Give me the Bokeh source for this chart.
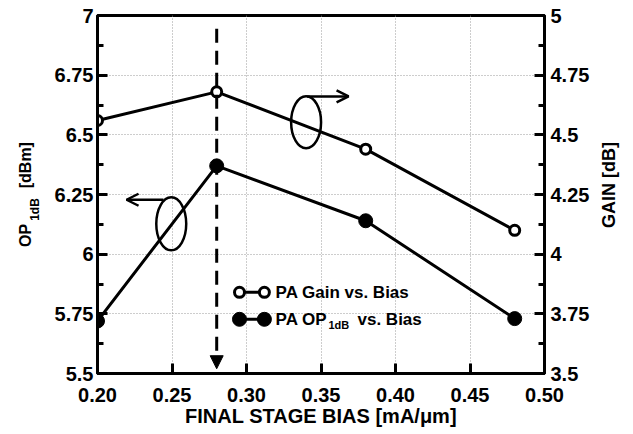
import math
from bokeh.plotting import figure
from bokeh.models import (Range1d, LinearAxis, FixedTicker, Label, Arrow,
                          OpenHead, NormalHead, PrintfTickFormatter)
from bokeh.embed import file_html
from bokeh.resources import INLINE

# ---------------- data ----------------
bias = [0.20, 0.28, 0.38, 0.48]            # mA/um
gain_db = [4.56, 4.68, 4.44, 4.10]         # right axis
op1db_dbm = [5.72, 6.37, 6.14, 5.73]       # left axis

x_ticks = [0.20, 0.25, 0.30, 0.35, 0.40, 0.45, 0.50]
left_ticks = [5.5, 5.75, 6.0, 6.25, 6.5, 6.75, 7.0]
left_labels = ["5.5", "5.75", "6", "6.25", "6.5", "6.75", "7"]
left_minor = [5.625, 5.875, 6.125, 6.375, 6.625, 6.875]
right_ticks = [3.5, 3.75, 4.0, 4.25, 4.5, 4.75, 5.0]
right_labels = ["3.5", "3.75", "4", "4.25", "4.5", "4.75", "5"]
right_minor = [3.625, 3.875, 4.125, 4.375, 4.625, 4.875]
optimum_bias = 0.28

FONT = "Liberation Sans"
NB = "\u00a0"

p = figure(frame_width=447, frame_height=358,
           min_border_left=97, min_border_right=89,
           min_border_top=15, min_border_bottom=61,
           x_range=Range1d(0.20, 0.50), y_range=Range1d(5.5, 7.0),
           output_backend="svg", toolbar_location=None)
p.extra_y_ranges = {"gain": Range1d(3.5, 5.0)}
p.background_fill_color = "white"
p.border_fill_color = "white"
p.outline_line_color = "black"
p.outline_line_width = 3

def style_axis(ax):
    ax.axis_line_width = 3
    ax.axis_line_color = "black"
    ax.major_tick_in = 10
    ax.major_tick_out = 0
    ax.minor_tick_in = 6
    ax.minor_tick_out = 0
    ax.major_tick_line_width = 3
    ax.minor_tick_line_width = 3
    ax.major_label_text_font = FONT
    ax.major_label_text_font_style = "bold"
    ax.major_label_text_font_size = "20px"
    ax.major_label_text_color = "black"

def bare_axis(ax):
    ax.axis_line_color = None
    ax.major_tick_out = 0
    ax.major_tick_in = 0
    ax.minor_tick_out = 0
    ax.minor_tick_in = 0

def title_axis(ax, text, size, standoff):
    # an axis that only carries a (bold) title text
    ax.ticker = FixedTicker(ticks=[])
    bare_axis(ax)
    ax.major_label_standoff = 0
    ax.axis_label = text
    ax.axis_label_text_font = FONT
    ax.axis_label_text_font_style = "bold"
    ax.axis_label_text_font_size = size
    ax.axis_label_text_color = "black"
    ax.axis_label_standoff = standoff

# bottom axis
xa = p.xaxis[0]
xa.ticker = FixedTicker(ticks=x_ticks)
xa.formatter = PrintfTickFormatter(format="%.2f")
style_axis(xa)
xa.major_label_standoff = 14
xa.axis_label = "FINAL STAGE BIAS [mA/\u03bcm]"
xa.axis_label_text_font = FONT
xa.axis_label_text_font_style = "bold"
xa.axis_label_text_font_size = "20px"
xa.axis_label_text_color = "black"
xa.axis_label_standoff = 0

# left axis
ya = p.yaxis[0]
ya.ticker = FixedTicker(ticks=left_ticks, minor_ticks=left_minor)
ya.major_label_overrides = {t: l for t, l in zip(left_ticks, left_labels)}
style_axis(ya)
ya.major_label_standoff = 4

# left title: OP_1dB [dBm]  (subscript carried by its own title-only axis)
sub_ax = LinearAxis()
title_axis(sub_ax, "1dB" + NB * 9, "12px", 10)
p.add_layout(sub_ax, "left")
op_ax = LinearAxis()
title_axis(op_ax, "OP" + NB * 8 + "[dBm]", "16px", -9)
p.add_layout(op_ax, "left")

# right axis
ra = LinearAxis(y_range_name="gain")
ra.ticker = FixedTicker(ticks=right_ticks, minor_ticks=right_minor)
ra.major_label_overrides = {t: l for t, l in zip(right_ticks, right_labels)}
style_axis(ra)
ra.major_label_standoff = 6
p.add_layout(ra, "right")

# right title "GAIN [dB]" reading bottom-to-top: a single rotated tick label
gain_title_start = 4.11
gt_ax = LinearAxis(y_range_name="gain")
gt_ax.ticker = FixedTicker(ticks=[gain_title_start])
gt_ax.major_label_overrides = {gain_title_start: "GAIN [dB]"}
bare_axis(gt_ax)
gt_ax.major_label_orientation = math.pi / 2
gt_ax.major_label_text_font = FONT
gt_ax.major_label_text_font_style = "bold"
gt_ax.major_label_text_font_size = "18px"
gt_ax.major_label_text_color = "black"
gt_ax.major_label_standoff = 17
p.add_layout(gt_ax, "right")

# dotted grid
for g in (p.xgrid[0], p.ygrid[0]):
    g.grid_line_color = "#9a9a9a"
    g.grid_line_dash = "1 2"
    g.grid_line_width = 1
p.xgrid[0].ticker = FixedTicker(ticks=x_ticks)
p.ygrid[0].ticker = FixedTicker(ticks=left_ticks)

# series
p.line(bias, gain_db, y_range_name="gain", line_width=3, line_color="black")
p.scatter(bias, gain_db, y_range_name="gain", size=10, fill_color="white",
          line_color="black", line_width=3)
p.line(bias, op1db_dbm, line_width=3, line_color="black")
p.scatter(bias, op1db_dbm, size=14, fill_color="black", line_color="black")

# dashed arrow marking the optimum bias
p.add_layout(Arrow(x_start=optimum_bias, y_start=6.945, x_end=optimum_bias, y_end=5.52,
                   line_width=3, line_dash="14 8", line_color="black",
                   end=NormalHead(size=13, fill_color="black", line_color="black",
                                  line_width=1)))

# ellipses + arrows telling which axis each curve uses
p.ellipse(x=[0.340], y=[6.553], width=[0.0201], height=[0.218],
          fill_color=None, line_color="black", line_width=2.5)
p.ellipse(x=[0.2495], y=[6.127], width=[0.0201], height=[0.222],
          fill_color=None, line_color="black", line_width=2.5)
p.add_layout(Arrow(x_start=0.3407, y_start=6.661, x_end=0.3685, y_end=6.661,
                   line_width=2.5, line_color="black",
                   end=OpenHead(size=12, line_width=2.5, line_color="black")))
p.add_layout(Arrow(x_start=0.2443, y_start=6.228, x_end=0.2195, y_end=6.228,
                   line_width=2.5, line_color="black",
                   end=OpenHead(size=12, line_width=2.5, line_color="black")))

# manual legend (two markers joined by a line, like the original)
leg_x = [0.2953, 0.312]
leg_y1 = 5.84
leg_y2 = 5.727
p.line(leg_x, [leg_y1, leg_y1], line_width=3, line_color="black")
p.scatter(leg_x, [leg_y1, leg_y1], size=10, fill_color="white", line_color="black", line_width=3)
p.line(leg_x, [leg_y2, leg_y2], line_width=3, line_color="black")
p.scatter(leg_x, [leg_y2, leg_y2], size=14, fill_color="black", line_color="black")

def lab(text, x, y, size, **kw):
    l = Label(x=x, y=y, text=text, text_font=FONT, text_font_style="bold",
              text_font_size=size, text_color="black", **kw)
    p.add_layout(l)
    return l

lab("PA Gain vs. Bias", 0.3195, leg_y1, "17px", text_baseline="middle")
lab("PA OP", 0.3195, leg_y2, "17px", text_baseline="middle")
lab("1dB", 0.3550, leg_y2 - 0.022, "11px", text_baseline="middle")
lab("vs. Bias", 0.3745, leg_y2, "17px", text_baseline="middle")

open("out.html", "w").write(file_html(p, INLINE))
